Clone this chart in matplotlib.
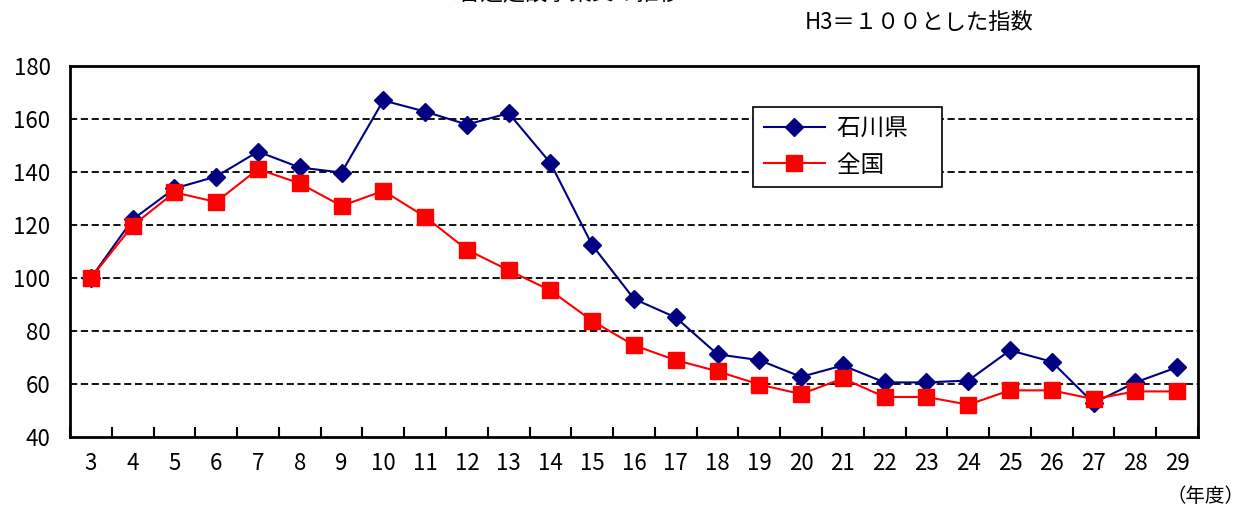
import numpy as np
import matplotlib
matplotlib.use("Agg")
import matplotlib.pyplot as plt

plt.rcParams['font.family'] = ['Noto Sans CJK JP', 'DejaVu Sans']

# 年度 (平成)
years = list(range(3, 30))
# 石川県
ishikawa = [100, 122.1, 133.8, 138.3, 147.7, 141.7, 139.8, 167.0, 162.8, 157.9, 162.2, 143.4,
            112.4, 92.1, 85.1, 71.2, 69.0, 62.7, 67.0, 60.6, 60.6, 61.3, 72.7, 68.4, 52.8, 60.6, 66.3]
# 全国
zenkoku = [100, 119.8, 132.3, 128.7, 141.1, 135.7, 127.2, 132.9, 123.1, 110.7, 102.9, 95.3,
           83.8, 74.6, 69.0, 64.8, 59.8, 56.2, 62.1, 55.1, 55.1, 52.2, 57.6, 57.6, 54.3, 57.2, 57.2]
yticks = [40, 60, 80, 100, 120, 140, 160, 180]

fig = plt.figure(figsize=(12.51, 5.12), dpi=100)
ax = fig.add_axes([70/1251, 1-437/512, 1128/1251, 371/512])

x = np.arange(len(years))
ax.plot(x, ishikawa, color='#000080', marker='D', markersize=9, linewidth=1.5, label='石川県　', zorder=3)
ax.plot(x, zenkoku, color='#FF0000', marker='s', markersize=11, linewidth=1.5, label='全国　', zorder=4)

ax.set_xlim(-0.5, len(years) - 0.5)
ax.set_ylim(40, 180)
ax.set_yticks(yticks)
ax.set_yticklabels([str(v) for v in yticks], fontsize=16)
ax.tick_params(axis='y', length=0, pad=14)

# category labels, ticks on the boundaries
ax.set_xticks(x)
ax.set_xticklabels([str(y) for y in years], fontsize=16)
ax.set_xticks(np.arange(len(years) + 1) - 0.5, minor=True)
ax.tick_params(axis='x', which='major', length=0, pad=11)
ax.tick_params(axis='x', which='minor', direction='in', length=7, width=1.5)

for v in yticks[1:-1]:
    ax.axhline(v, color='black', linestyle=(0, (4, 2)), linewidth=1.3, zorder=1)

for s in ax.spines.values():
    s.set_linewidth(2)

leg = ax.legend(loc='upper left', bbox_to_anchor=((753-70)/1128, (437-107)/371),
                fontsize=17, frameon=True, fancybox=False, edgecolor='black',
                handlelength=2.6, handletextpad=0.5, borderpad=0.45, labelspacing=0.55,
                borderaxespad=0)
leg.get_frame().set_linewidth(1.2)
leg.get_frame().set_alpha(1)

fig.text(570/1251, 1 + 6/512, '＜普通建設事業費の推移＞', fontsize=16, ha='center', va='center')
fig.text(919/1251, 1 - 22/512, 'H3＝１００とした指数', fontsize=16, ha='center', va='center')
fig.text(1244/1251, 1 - 497/512, '（年度）', fontsize=14, ha='right', va='center')

fig.savefig('out.png', dpi=100)
